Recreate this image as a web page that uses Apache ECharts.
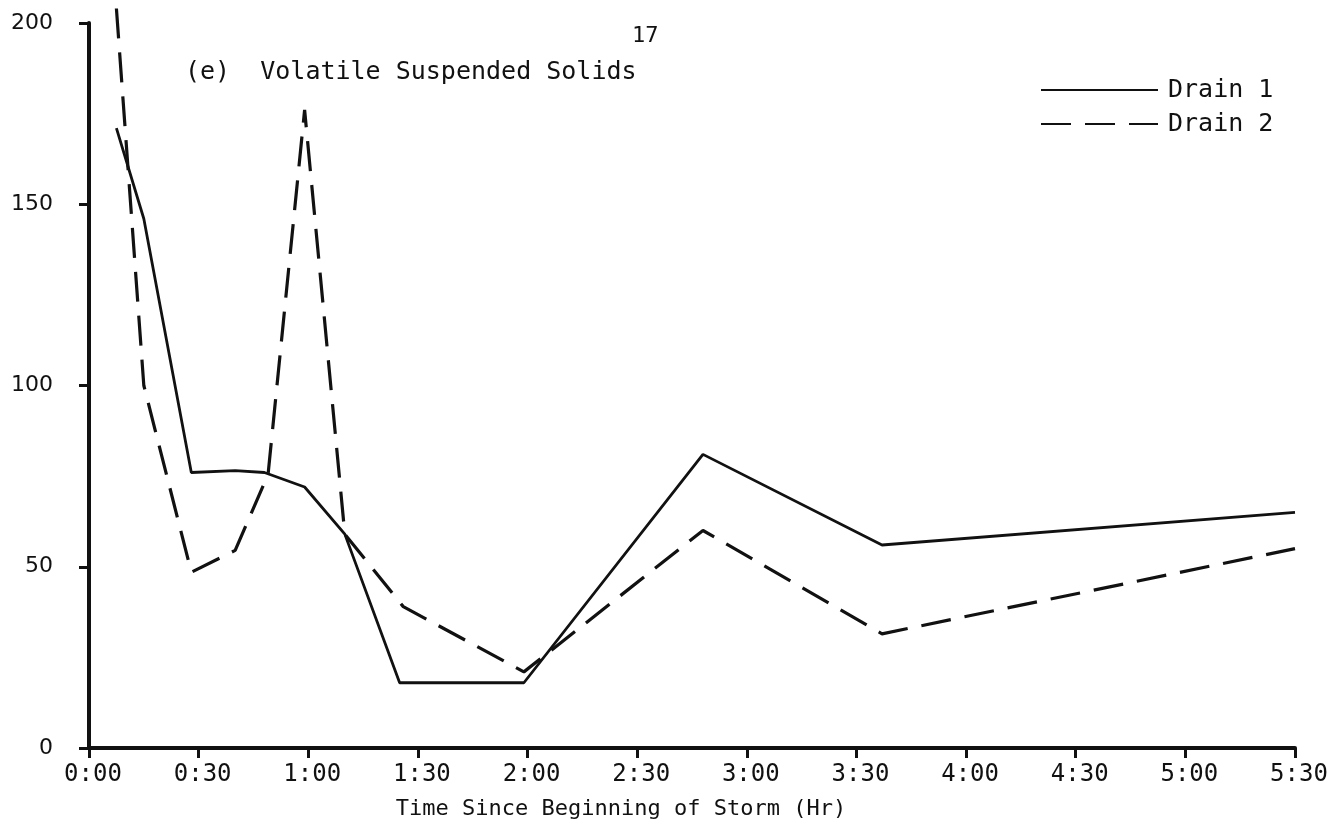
<!DOCTYPE html>
<html>
<head>
<meta charset="utf-8">
<title>Volatile Suspended Solids</title>
<script src="https://cdn.jsdelivr.net/npm/echarts@6/dist/echarts.min.js"></script>
<style>
  html, body { margin: 0; padding: 0; background: #fff; }
  #chart { width: 1340px; height: 831px; }
</style>
</head>
<body>
<div id="chart"></div>
<script>
// minutes since beginning of storm
let drain1Time = [7.5, 15, 28, 40, 48, 59, 70, 85, 119, 168, 217, 330]
let drain1Value = [171, 146, 76, 76.5, 76, 72, 59, 18, 18, 81, 56, 65]
let drain2Time = [7.5, 15, 28, 40, 49, 59, 70, 86, 119, 168, 217, 330]
let drain2Value = [204, 100, 48.5, 54.5, 75.5, 176, 59, 39, 21, 60, 31.5, 55]
let seriesNames = ['Drain 1', 'Drain 2']
let yTicks = [0, 50, 100, 150, 200]

let mono = '"DejaVu Sans Mono", "Liberation Mono", monospace'
let ink = '#111'

function pairs(xs, ys) {
  return xs.map(function(x, i) {
    return [x, ys[i]]
  })
}

function clock(m) {
  let h = Math.floor(m / 60)
  let mm = m % 60
  return h + ':' + (mm < 10 ? '0' + mm : mm)
}

let myChart = echarts.init(document.getElementById('chart'), null, { renderer: 'canvas' })

let option = {
  backgroundColor: '#fff',
  animation: false,
  title: [
    {
      text: '17',
      left: 627,
      top: 20,
      textStyle: { fontFamily: mono, fontSize: 22, fontWeight: 'normal', color: ink }
    },
    {
      text: '(e)  Volatile Suspended Solids',
      left: 180,
      top: 55,
      textStyle: { fontFamily: mono, fontSize: 25, fontWeight: 'normal', color: ink }
    }
  ],
  legend: {
    orient: 'vertical',
    left: 1040,
    top: 77,
    padding: 0,
    itemWidth: 117,
    itemHeight: 14,
    itemGap: 8,
    data: seriesNames,
    itemStyle: { opacity: 0 },
    textStyle: {
      fontFamily: mono, fontSize: 25, color: ink, lineHeight: 26, padding: [0, 0, 0, 5]
    }
  },
  grid: {
    left: 89,
    right: 45,
    top: 23,
    bottom: 83
  },
  xAxis: {
    type: 'value',
    min: 0,
    max: 330,
    interval: 30,
    name: 'Time Since Beginning of Storm (Hr)',
    nameLocation: 'middle',
    nameGap: 50,
    nameTextStyle: {
      fontFamily: mono, fontSize: 22, color: ink, padding: [0, 142, 0, 0]
    },
    axisLine: { lineStyle: { color: ink, width: 4 } },
    axisTick: { inside: false, length: 10, lineStyle: { color: ink, width: 3 } },
    axisLabel: {
      fontFamily: mono, fontSize: 24, color: ink, margin: 15,
      padding: [0, 0, 0, 8],
      formatter: function(v) { return clock(v) }
    },
    splitLine: { show: false }
  },
  yAxis: {
    type: 'value',
    min: yTicks[0],
    max: yTicks[yTicks.length - 1],
    interval: 50,
    axisLine: { show: true, lineStyle: { color: ink, width: 4 } },
    axisTick: { show: true, inside: false, length: 10, lineStyle: { color: ink, width: 3 } },
    axisLabel: {
      fontFamily: '"DejaVu Sans", sans-serif', fontSize: 22, color: ink, margin: 36
    },
    splitLine: { show: false }
  },
  series: [
    {
      name: seriesNames[0],
      type: 'line',
      symbol: 'none',
      clip: false,
      data: pairs(drain1Time, drain1Value),
      lineStyle: { color: ink, width: 2.8, type: 'solid' },
      itemStyle: { color: ink }
    },
    {
      name: seriesNames[1],
      type: 'line',
      symbol: 'none',
      clip: false,
      data: pairs(drain2Time, drain2Value),
      lineStyle: { color: ink, width: 3.2, type: [30, 14] },
      itemStyle: { color: ink }
    }
  ]
}

myChart.setOption(option)
window.addEventListener('resize', function() {
  myChart.resize()
})
</script>
</body>
</html>
